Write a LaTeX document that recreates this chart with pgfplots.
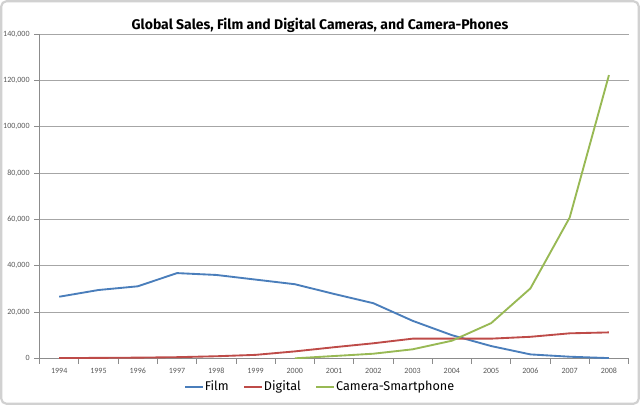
\documentclass[border=0pt]{standalone}
\usepackage{pgfplots}
\pgfplotsset{compat=1.18}
\usepackage{fontspec}
\setmainfont{Fira Sans}
\newfontfamily\tickfont{Carlito}
\definecolor{cfilm}{HTML}{4A7EBB}
\definecolor{cdig}{HTML}{BE4B48}
\definecolor{cphone}{HTML}{98B954}
\definecolor{ctick}{HTML}{595959}
\begin{document}
\begin{tikzpicture}[x=0.75pt,y=0.75pt]
\useasboundingbox (0,0) rectangle (640,405);
\fill[white] (0,0) rectangle (640,405);
\draw[black!18, line width=1.6pt, rounded corners=4pt] (1.2,1.2) rectangle (638.8,403.8);
\node[font=\fontsize{10.5}{12}\selectfont\bfseries] at (320,380) {Global Sales, Film and Digital Cameras, and Camera-Phones};
\begin{axis}[
  at={(29.7pt,35.0pt)}, anchor=south west,
  scale only axis, width=441.75pt, height=243.2pt,
  xmin=1993.5, xmax=2008.5, ymin=0, ymax=140000,
  axis x line*=bottom, axis y line*=left,
  axis line style={black!45, line width=0.6pt},
  xtick={1994,...,2008},
  xticklabels={1994,1995,1996,1997,1998,1999,2000,2001,2002,2003,2004,2005,2006,2007,2008},
  major x tick style={draw=none},
  minor xtick={1993.5,1994.5,...,2008.5},
  minor x tick style={black!45, line width=0.6pt},
  minor tick length=4pt,
  ytick={0,20000,...,140000},
  yticklabels={0,{20,000},{40,000},{60,000},{80,000},{100,000},{120,000},{140,000}},
  major y tick style={black!45, line width=0.6pt},
  major tick length=4pt,
  tick align=outside,
  ymajorgrids, grid style={black!35, line width=0.6pt},
  scaled y ticks=false,
  x tick label style={font=\tickfont\fontsize{6}{7}\selectfont, text=ctick},
  y tick label style={font=\tickfont\fontsize{6}{7}\selectfont, text=ctick},
  legend style={at={(0.476,-0.088)}, anchor=center, draw=none, fill=none,
    font=\fontsize{9.5}{11}\selectfont, legend columns=-1,
    nodes={inner xsep=1pt},
    /tikz/every even column/.append style={column sep=10pt}},
  legend image code/.code={\draw[#1] (0pt,0pt) -- (13pt,0pt);},
]
\addplot[cfilm, line width=1.4pt] coordinates {
(1994,26600) (1995,29500) (1996,31100) (1997,36800) (1998,36000)
(1999,34000) (2000,32000) (2001,27800) (2002,23800) (2003,16200)
(2004,10000) (2005,5300) (2006,1700) (2007,700) (2008,100)};
\addlegendentry{Film}
\addplot[cdig, line width=1.4pt] coordinates {
(1994,100) (1995,200) (1996,300) (1997,500) (1998,900)
(1999,1500) (2000,3000) (2001,4800) (2002,6500) (2003,8500)
(2004,8500) (2005,8500) (2006,9300) (2007,10800) (2008,11200)};
\addlegendentry{Digital}
\addplot[cphone, line width=1.4pt] coordinates {
(2000,0) (2001,1000) (2002,2000) (2003,3900) (2004,7600)
(2005,15200) (2006,30200) (2007,60800) (2008,122300)};
\addlegendentry{Camera-Smartphone}
\end{axis}
\end{tikzpicture}
\end{document}
